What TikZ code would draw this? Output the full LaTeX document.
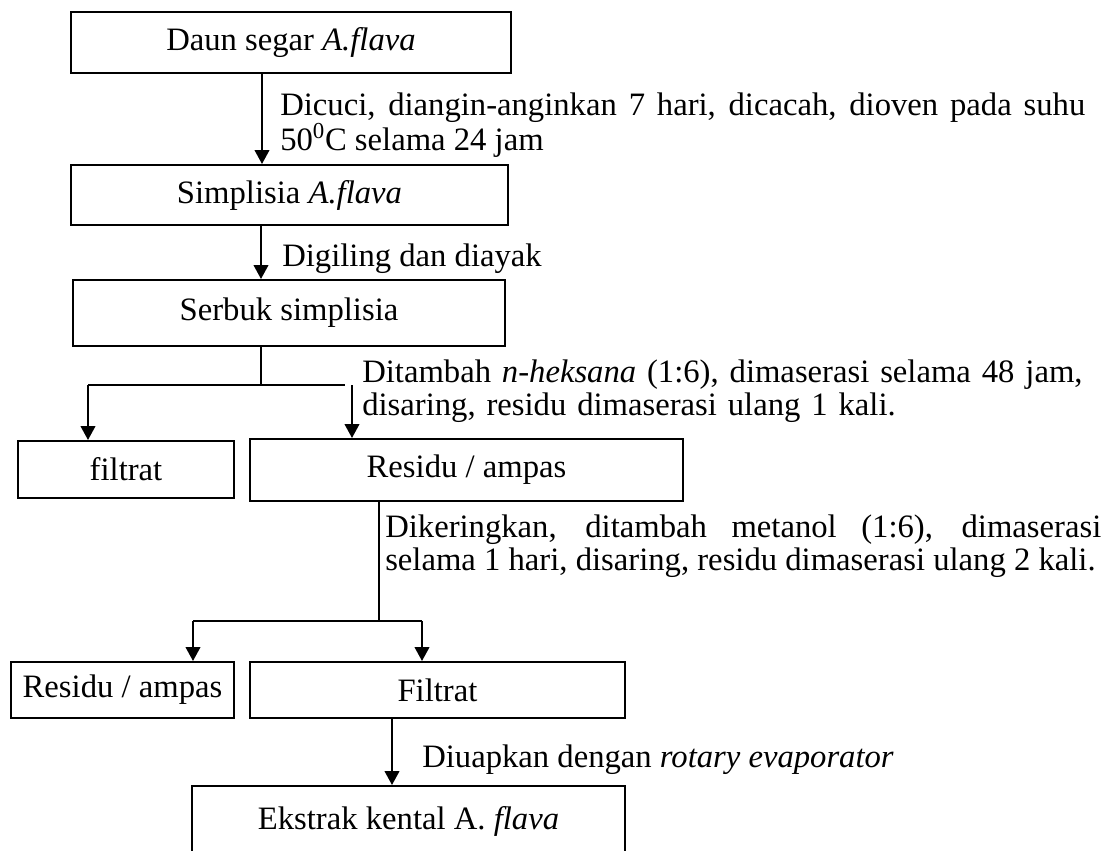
\documentclass[tikz,border=0pt]{standalone}
\usepackage{fontspec}
\setmainfont{Liberation Serif}
\usetikzlibrary{arrows.meta}
\begin{document}
\begin{tikzpicture}[x=0.75pt,y=-0.75pt,
  every node/.style={font=\fontsize{24.5pt}{25pt}\selectfont},
  stage/.style={draw,line width=1.5pt,inner sep=0pt,anchor=north west},
  note/.style={inner sep=0pt,anchor=base west},
  flow/.style={line width=1.5pt,-{Triangle[width=11pt,length=10.5pt]}},
  link/.style={line width=1.5pt}]
\useasboundingbox (0,0) rectangle (1106,850);
\clip (0,0) rectangle (1106,850);

% process stages
\node[stage,minimum width=330pt,minimum height=45.75pt] (daun) at (70,11) {Daun segar \textit{A.flava}};
\node[stage,minimum width=327.75pt,minimum height=45pt] (simp) at (70,164) {Simplisia \textit{A.flava}};
\node[stage,minimum width=324pt,minimum height=49.5pt] (serbuk) at (72,279) {Serbuk simplisia};
\node[stage,minimum width=162pt,minimum height=42.75pt] (filtrat1) at (17,440) {filtrat};
\node[stage,minimum width=324.75pt,minimum height=46.5pt] (residu1) at (249,438) {Residu / ampas};
\node[stage,minimum width=167.25pt,minimum height=42pt] (residu2) at (10,661) {Residu / ampas};
\node[stage,minimum width=281.25pt,minimum height=42pt] (filtrat2) at (249,661) {Filtrat};
\node[stage,minimum width=324.75pt,minimum height=53.25pt] (ekstrak) at (191,785) {Ekstrak kental A. \textit{flava}};

% step descriptions
\node[note,text width=603.75pt,align=justify] (t1) at (280,115)
  {Dicuci, diangin-anginkan 7 hari, dicacah, dioven pada suhu\linebreak 50\textsuperscript{0}C selama 24 jam};
\node[note] (t2) at (282,266) {Digiling dan diayak};
\node[note,text width=570pt,align=left] (t3) at (362,382)
  {Ditambah \textit{n-heksana} (1:6), dimaserasi selama 48 jam,\\ disaring, residu dimaserasi ulang 1 kali.};
\node[note,text width=537pt,align=justify] (t4) at (385,537)
  {Dikeringkan, ditambah metanol (1:6), dimaserasi\linebreak selama 1 hari, disaring, residu dimaserasi ulang 2 kali.};
\node[note] (t5) at (422,767) {Diuapkan dengan \textit{rotary evaporator}};

% branch points
\coordinate (j1) at (261,385);
\coordinate (j1l) at (88,385);
\coordinate (j1r) at (345,385);
\coordinate (j1a) at (352,385);
\coordinate (j2) at (379,621);
\coordinate (j2l) at (193,621);
\coordinate (j2r) at (422,621);

% connectors
\draw[flow] (daun.south -| 262,0) -- (simp.north -| 262,0);
\draw[flow] (simp.south -| 261,0) -- (serbuk.north -| 261,0);
\draw[link] (serbuk.south -| j1) -- (j1);
\draw[link] (j1l) -- (j1r);
\draw[flow] (j1l) -- (filtrat1.north -| j1l);
\draw[flow] (j1a) -- (residu1.north -| j1a);
\draw[link] (residu1.south -| j2) -- (j2);
\draw[link] (j2l) -- (j2r);
\draw[flow] (j2l) -- (residu2.north -| j2l);
\draw[flow] (j2r) -- (filtrat2.north -| j2r);
\draw[flow] (filtrat2.south -| 392,0) -- (ekstrak.north -| 392,0);
\end{tikzpicture}
\end{document}
